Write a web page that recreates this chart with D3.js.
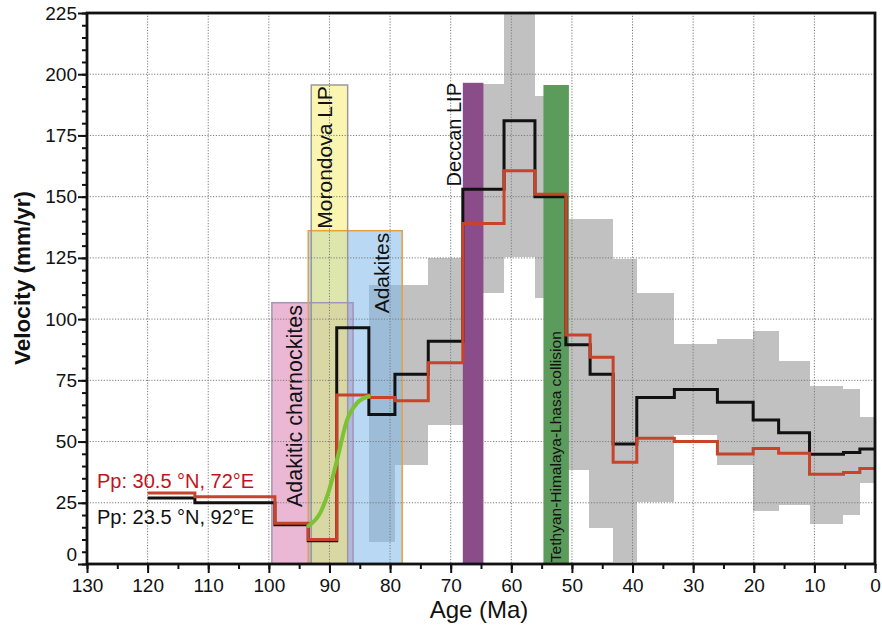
<!DOCTYPE html>
<html>
<head>
<meta charset="utf-8">
<script src="https://cdn.jsdelivr.net/npm/d3@7"></script>
<style>
  body { margin: 0; background: #fff; }
  svg { display: block; font-family: "Liberation Sans", Arial, sans-serif; }
</style>
</head>
<body>
<div id="chart"></div>
<script>
// step model: edges (Ma) and the velocity held over each interval
const stepEdges = [120, 112.2, 99, 93.5, 88.8, 83.5, 79.2, 73.7, 68, 61.2, 56.1, 51, 47, 43.2, 39.3, 33.1, 26, 20.1, 15.9, 10.8, 5.2, 2.5, 0];
const blackVel = [27, 25, 16, 9.5, 96.5, 61, 77.5, 91, 153, 181, 150, 89.5, 77.5, 49, 68, 71.3, 66, 58.8, 53.6, 44.8, 45.5, 47];
const redVel = [29, 27.5, 16.6, 10, 69, 68, 66.7, 82.2, 139, 160.6, 151, 93.5, 84.4, 41.5, 51.3, 50, 44.9, 47.2, 45.2, 36.7, 37.4, 39];

// grey uncertainty envelope
const bandEdges = [83.5, 79.2, 73.7, 68, 61.2, 56.1, 51, 47.2, 43.2, 39.3, 33.1, 26, 20.1, 15.9, 10.8, 5.2, 2.5, 0];
const bandLow = [9, 40.4, 56.8, 110.5, 125.5, 108.5, 38.4, 14.6, 1, 25.4, 52.7, 40.4, 21.5, 24, 16.5, 20, 33];
const bandHigh = [114, 114, 124.8, 196, 225, 191, 140.8, 140.8, 124.4, 110.5, 89.7, 91.7, 95.1, 83, 72.5, 71.5, 60];

// green transition curve
const greenAge = [93.5, 91.5, 90.2, 88.5, 87.2, 85.5, 83.5];
const greenVel = [15.5, 21, 29, 45, 58, 65.6, 68.5];

// event boxes
const boxNames = ['Adakitic charnockites', 'Morondova LIP', 'Adakites'];
const boxFrom = [99.5, 93, 93.5];
const boxTo = [86.1, 87, 78];
const boxTop = [106.7, 195.6, 136.1];

// event bars
const barNames = ['Deccan LIP', 'Tethyan-Himalaya-Lhasa collision'];
const barFrom = [68, 54.7];
const barTo = [64.6, 50.5];
const barTop = [196.5, 195.6];

const xTicks = d3.range(130, -1, -10);
const yTicks = d3.range(0, 226, 25);

const W = 882, H = 625;
const FONT = '"Liberation Sans", Arial, sans-serif';
const x = d3.scaleLinear().domain([130, 0]).range([87, 875]);
const y = d3.scaleLinear().domain([0, 225]).range([564, 13]);

const svg = d3.select('#chart').append('svg').attr('width', W).attr('height', H);

svg.append('rect').attr('x', x(130)).attr('y', y(225))
  .attr('width', x(0) - x(130)).attr('height', y(0) - y(225)).attr('fill', '#fff');

// grey band
const band = bandLow.map((lo, i) => ({ a0: bandEdges[i], a1: bandEdges[i + 1], lo, hi: bandHigh[i] }));
svg.append('g').selectAll('rect').data(band).join('rect')
  .attr('x', d => x(d.a0)).attr('width', d => x(d.a1) - x(d.a0))
  .attr('y', d => y(d.hi)).attr('height', d => y(d.lo) - y(d.hi))
  .attr('fill', '#c1c1c1').attr('shape-rendering', 'crispEdges');

// boxes: pink, then blue, then yellow on top (translucent)
const boxFill = ['#eab8d4', '#f6f07a', '#7fb8ea'];
const boxOpacity = [1, 0.58, 0.55];
const boxStroke = ['#a394b8', '#9a9a9a', '#e8a23c'];
const boxes = boxNames.map((n, i) => ({ n, a0: boxFrom[i], a1: boxTo[i], top: boxTop[i], i }));
const boxOrder = [0, 2, 1];
const gBox = svg.append('g');
gBox.selectAll('rect.fill').data(boxOrder.map(i => boxes[i])).join('rect')
  .attr('class', 'fill')
  .attr('x', d => x(d.a0)).attr('width', d => x(d.a1) - x(d.a0))
  .attr('y', d => y(d.top)).attr('height', d => y(0) - y(d.top))
  .attr('fill', d => boxFill[d.i]).attr('fill-opacity', d => boxOpacity[d.i]);
gBox.selectAll('rect.edge').data(boxOrder.map(i => boxes[i])).join('rect')
  .attr('class', 'edge')
  .attr('x', d => x(d.a0)).attr('width', d => x(d.a1) - x(d.a0))
  .attr('y', d => y(d.top)).attr('height', d => y(0) - y(d.top))
  .attr('fill', 'none').attr('stroke', d => boxStroke[d.i]).attr('stroke-width', 1.5);

// grid
const grid = svg.append('g').attr('stroke', '#7a7a7a').attr('stroke-width', 1).attr('stroke-dasharray', '1.2,1.6');
grid.selectAll('.gx').data(xTicks.filter(t => t > 0 && t < 130)).join('line')
  .attr('x1', d => x(d)).attr('x2', d => x(d)).attr('y1', y(225)).attr('y2', y(0));
grid.selectAll('.gy').data(yTicks.filter(t => t > 0 && t < 225)).join('line')
  .attr('y1', d => y(d)).attr('y2', d => y(d)).attr('x1', x(130)).attr('x2', x(0));

// bars
const barFill = ['#8a4d8a', '#5b9b5b'];
const bars = barNames.map((n, i) => ({ n, a0: barFrom[i], a1: barTo[i], top: barTop[i], i }));
svg.append('g').selectAll('rect').data(bars).join('rect')
  .attr('x', d => x(d.a0)).attr('width', d => x(d.a1) - x(d.a0))
  .attr('y', d => y(d.top)).attr('height', d => y(0) - y(d.top))
  .attr('fill', d => barFill[d.i]);

// step lines
const stepPts = vals => vals.map((v, i) => [stepEdges[i], v]).concat([[stepEdges[stepEdges.length - 1], vals[vals.length - 1]]]);
const stepLine = d3.line().x(d => x(d[0])).y(d => y(d[1])).curve(d3.curveStepAfter);
svg.append('path').attr('d', stepLine(stepPts(blackVel)))
  .attr('fill', 'none').attr('stroke', '#111').attr('stroke-width', 3);
svg.append('path').attr('d', stepLine(stepPts(redVel)))
  .attr('fill', 'none').attr('stroke', '#c8432a').attr('stroke-width', 3);

// green curve
const greenLine = d3.line().x(d => x(d[0])).y(d => y(d[1])).curve(d3.curveMonotoneX);
svg.append('path').attr('d', greenLine(greenAge.map((a, i) => [a, greenVel[i]])))
  .attr('fill', 'none').attr('stroke', '#7cc234').attr('stroke-width', 4).attr('stroke-linecap', 'round');

// frame
svg.append('rect').attr('x', x(130)).attr('y', y(225))
  .attr('width', x(0) - x(130)).attr('height', y(0) - y(225))
  .attr('fill', 'none').attr('stroke', '#111').attr('stroke-width', 2.8);

// axes
const yMinor = svg.append('g').attr('transform', `translate(${x(130)},0)`)
  .call(d3.axisLeft(y).tickValues(d3.range(0, 226, 5)).tickSize(5).tickFormat(''));
const yAxis = svg.append('g').attr('transform', `translate(${x(130)},0)`)
  .call(d3.axisLeft(y).tickValues(yTicks).tickSize(9).tickPadding(1));
const xMinor = svg.append('g').attr('transform', `translate(0,${y(0)})`)
  .call(d3.axisBottom(x).tickValues(d3.range(0, 131, 5)).tickSize(5).tickFormat(''));
const xAxis = svg.append('g').attr('transform', `translate(0,${y(0)})`)
  .call(d3.axisBottom(x).tickValues(xTicks).tickSize(9).tickPadding(6));
[yMinor, yAxis, xMinor, xAxis].forEach(g => {
  g.select('.domain').remove();
  g.selectAll('line').attr('stroke', '#111').attr('stroke-width', 2);
  g.selectAll('text').attr('font-size', 19).attr('fill', '#111').attr('font-family', FONT);
});
yAxis.selectAll('text').filter(d => d === 0).attr('dy', '-0.18em');

svg.append('text').attr('transform', 'translate(30,278) rotate(-90)')
  .attr('text-anchor', 'middle').attr('font-size', 22.5).attr('font-weight', 'bold').attr('fill', '#111')
  .text('Velocity (mm/yr)');
svg.append('text').attr('x', 479).attr('y', 618)
  .attr('text-anchor', 'middle').attr('font-size', 24).attr('fill', '#111')
  .text('Age (Ma)');

// legend
svg.append('text').attr('x', 97).attr('y', 488).attr('font-size', 20).attr('fill', '#c0141c')
  .text('Pp: 30.5 °N, 72°E');
svg.append('text').attr('x', 97).attr('y', 523.5).attr('font-size', 20).attr('fill', '#111')
  .text('Pp: 23.5 °N, 92°E');

// rotated labels
const vlabel = (px, vel, txt, size) => svg.append('text')
  .attr('transform', `translate(${px},${y(vel)}) rotate(-90)`)
  .attr('text-anchor', 'middle').attr('font-size', size).attr('fill', '#111').text(txt);
vlabel(x(boxFrom[0]) + 30, 64.5, boxNames[0], 21.5);
vlabel(x(boxFrom[1]) + 20.5, 166, boxNames[1], 21);
vlabel(x(boxTo[2]) - 13.5, 118.8, boxNames[2], 21);
vlabel(x(barFrom[0]) - 1.5, 175.3, barNames[0], 20);
vlabel(x(barFrom[1]) + 17.5, 47.9, barNames[1], 15.5);
</script>
</body>
</html>
